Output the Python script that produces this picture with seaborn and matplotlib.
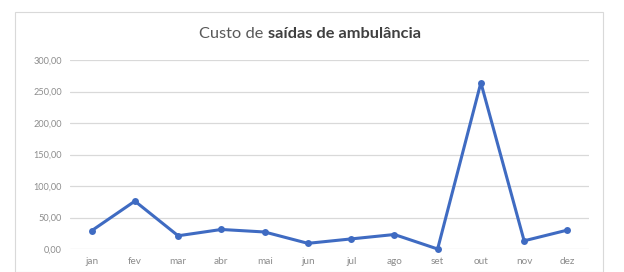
import matplotlib
matplotlib.use("Agg")
import matplotlib.pyplot as plt
import seaborn as sns
import pandas as pd
from matplotlib.patches import Rectangle
from matplotlib.ticker import FuncFormatter

months = ["jan", "fev", "mar", "abr", "mai", "jun", "jul", "ago", "set", "out", "nov", "dez"]
values = [29, 76, 21, 31, 27, 9, 16, 23, 0, 264, 13, 30]
yticks = [0, 50, 100, 150, 200, 250, 300]

sns.set_theme(style="white")
plt.rcParams['font.family'] = ['Lato', 'DejaVu Sans']

df = pd.DataFrame({"mes": months, "custo": values})

fig = plt.figure(figsize=(6.24, 2.72), dpi=100)
fig.patch.set_facecolor("white")
fig.patches.append(Rectangle((15/624, 0), (603-15)/624, 1 - 12/272, transform=fig.transFigure,
                             fill=False, edgecolor="#D9D9D9", linewidth=0.8))

ax = fig.add_axes([70/624, 1 - 249/272, (589-70)/624, (249-60)/272])
sns.lineplot(data=df, x="mes", y="custo", sort=False, ax=ax, color="#3F6BC2",
             linewidth=2.2, marker="o", markersize=5, markeredgewidth=0)
ax.set_xlim(-0.5, 11.5)
ax.set_ylim(0, 300)
ax.set_yticks(yticks)
ax.yaxis.set_major_formatter(FuncFormatter(lambda v, p: f"{v:.2f}".replace(".", ",")))
ax.grid(axis="y", color="#D9D9D9", linewidth=0.9)
ax.set_axisbelow(True)
for s in ax.spines.values():
    s.set_visible(False)
ax.set_xlabel("")
ax.set_ylabel("")
ax.tick_params(axis="y", labelsize=6.6, labelcolor="#8C8C8C", length=0, pad=6)
ax.tick_params(axis="x", labelsize=7.2, labelcolor="#8C8C8C", length=0, pad=6)
for ln in ax.lines:
    ln.set_clip_on(False)

# Title with mixed weights
fig.canvas.draw()
r = fig.canvas.get_renderer()
ty = 1 - 34/272
t1 = fig.text(0, ty, "Custo de ", fontsize=11.8, color="#595959", va="center", ha="left")
t2 = fig.text(0, ty, "saídas de ambulância", fontsize=11.8, color="#404040", fontweight="bold",
              va="center", ha="left")
w1 = t1.get_window_extent(r).width
w2 = t2.get_window_extent(r).width
total = w1 + w2
x0 = 310 - total / 2
t1.set_x(x0 / 624)
t2.set_x((x0 + w1) / 624)

fig.savefig("out.png", dpi=100, facecolor="white")
